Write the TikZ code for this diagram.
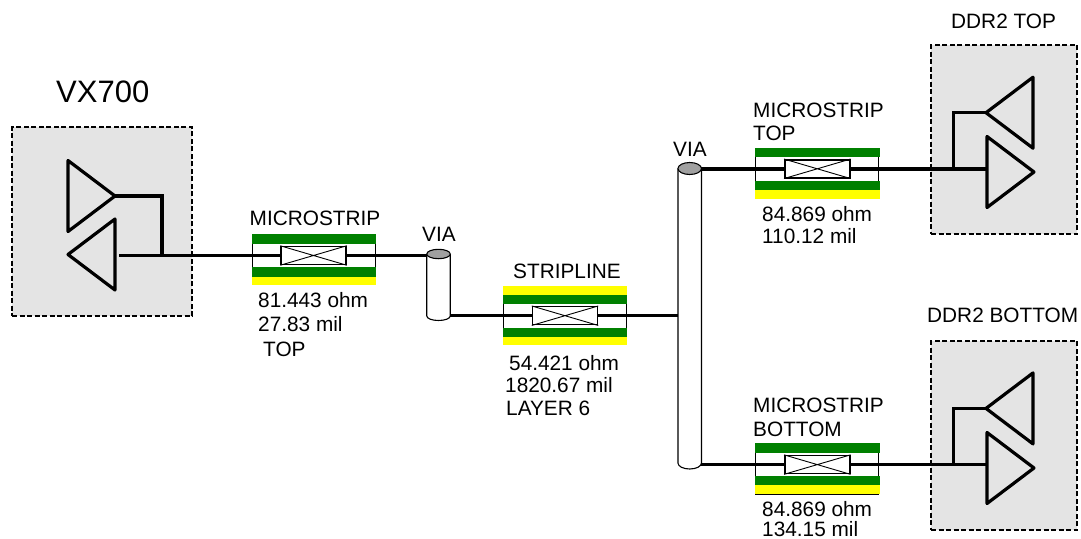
\documentclass[tikz,border=0pt]{standalone}
\usepackage{fontspec}
\setmainfont{Liberation Sans}
\usepackage{xcolor}
\usetikzlibrary{positioning, shapes.geometric}
\definecolor{chipgray}{HTML}{E4E4E4}
\definecolor{viagray}{HTML}{A0A0A0}
\definecolor{bandgreen}{HTML}{008000}
\definecolor{bandyellow}{HTML}{FFFF00}
\tikzset{
  chip/.style={draw,dash pattern=on 5pt off 2.5pt,line width=2pt,fill=chipgray,minimum width=#1,inner sep=0pt},
  drvr/.style={draw,isosceles triangle,isosceles triangle stretches,line width=3.2pt,line join=round,anchor=apex,minimum width=71pt,minimum height=47pt,inner sep=0pt,outer sep=0pt},
  wire/.style={line width=3.4pt},
  sect/.style={draw,line width=1.2pt,minimum width=123pt,minimum height=50pt,inner sep=0pt},
  band/.style={minimum width=124.5pt,minimum height=9.5pt,inner sep=0pt},
  elem/.style={draw,fill=white,line width=1.5pt,minimum width=65pt,minimum height=18pt,inner sep=0pt},
  cross/.style={line width=0.9pt},
  via/.style={minimum width=23.5pt,inner sep=0pt,outer sep=0pt},
  viabody/.style={draw,fill=white,line width=1.1pt},
  lbl/.style={anchor=base west,inner sep=0pt,font=\fontsize{20.8pt}{24pt}\selectfont},
}
\begin{document}
\begin{tikzpicture}[x=1pt,y=-1pt]
\useasboundingbox (0,0) rectangle (1081,538);
% chips
\node[chip=180pt,minimum height=189pt] (vx) at (102,221.5) {};
\node[chip=146pt,minimum height=189pt] (ddrt) at (1004,139.5) {};
\node[chip=146pt,minimum height=189pt] (ddrb) at (1004,435.5) {};
% sections
\node[sect] (s1) at (313.8,259.5) {};
\node[band,fill=bandgreen,minimum height=10pt] (s1a) at (313.8,239.3) {};
\node[band,fill=bandgreen] (s1b) at (313.8,271.8) {};
\node[band,fill=bandyellow,minimum height=8.5pt] (s1c) at (313.8,280.8) {};
\node[sect] (s2) at (565,315.5) {};
\node[band,fill=bandyellow] (s2a) at (565,290.4) {};
\node[band,fill=bandgreen] (s2b) at (565,299.5) {};
\node[band,fill=bandgreen] (s2c) at (565,332.5) {};
\node[band,fill=bandyellow,minimum height=8.5pt] (s2d) at (565,341.2) {};
\node[sect] (s3) at (817.3,173.5) {};
\node[band,fill=bandgreen] (s3a) at (817.3,152.5) {};
\node[band,fill=bandgreen] (s3b) at (817.3,185.5) {};
\node[band,fill=bandyellow] (s3c) at (817.3,194.5) {};
\node[sect] (s4) at (817.3,469) {};
\node[band,fill=bandgreen] (s4a) at (817.3,448) {};
\node[band,fill=bandgreen] (s4b) at (817.3,480.5) {};
\node[band,fill=bandyellow] (s4c) at (817.3,489.7) {};
% elements
\node[elem] (e1) at (313.5,255.5) {};
\node[elem] (e2) at (565,315.7) {};
\node[elem] (e3) at (817.3,168.8) {};
\node[elem] (e4) at (817.3,464.6) {};
\draw[cross] (e1.north west) -- (e1.south east) (e1.south west) -- (e1.north east);
\draw[cross] (e2.north west) -- (e2.south east) (e2.south west) -- (e2.north east);
\draw[cross] (e3.north west) -- (e3.south east) (e3.south west) -- (e3.north east);
\draw[cross] (e4.north west) -- (e4.south east) (e4.south west) -- (e4.north east);
% vias
\node[via,minimum height=62pt] (v1) at (438.5,285) {};
\node[via,minimum height=294.5pt] (v2) at (689.7,315.75) {};
\draw[viabody] (v1.north west) -- (v1.south west) arc (180:360:11.75pt and 4.5pt) -- (v1.north east);
\draw[viabody,fill=viagray] (v1.north) ellipse (11.75pt and 4.7pt);
\draw[viabody] (v2.north west) -- (v2.south west) arc (180:360:11.75pt and 6pt) -- (v2.north east);
\draw[viabody,fill=viagray] (v2.north) ellipse (11.75pt and 6pt);
% drivers
\node[drvr] (tx1) at (115,196) {};
\node[drvr,shape border rotate=180] (rx1) at (68,254.5) {};
\node[drvr,shape border rotate=180] (rx2) at (986,112.7) {};
\node[drvr] (tx2) at (1034,172) {};
\node[drvr,shape border rotate=180] (rx3) at (986,408.4) {};
\node[drvr] (tx3) at (1034,468) {};
% wires
\coordinate (j1) at (162,255.5);
\coordinate (j2) at (953.5,168.8);
\coordinate (j3) at (953.5,464.6);
\coordinate (st) at (119,255.5);
\draw[wire] (st) -- (e1.west);
\draw[wire] (e1.east) -- (e1.east -| v1.west);
\draw[wire] (tx1.apex) -| (j1);
\draw[wire] (e2.west -| v1.east) -- (e2.west);
\draw[wire] (e2.east) -- (e2.east -| v2.west);
\draw[wire] (e3.west -| v2.east) -- (e3.west);
\draw[wire] (e3.east) -- (j2) -- (j2 -| tx2.lower side);
\draw[wire] (rx2.apex) -| (j2);
\draw[wire] (e4.west -| v2.east) -- (e4.west);
\draw[wire] (e4.east) -- (j3) -- (j3 -| tx3.lower side);
\draw[wire] (rx3.apex) -| (j3);
% labels
\node[lbl,font=\fontsize{31pt}{34pt}\selectfont] (l0) at (56,102) {VX700};
\node[lbl] (l1) at (249.5,225) {MICROSTRIP};
\node[lbl] (l2) at (258,307) {81.443 ohm};
\node[lbl] (l3) at (258,331) {27.83 mil};
\node[lbl] (l4) at (263,356.5) {TOP};
\node[lbl] (l5) at (422,241.5) {VIA};
\node[lbl] (l6) at (513,278) {STRIPLINE};
\node[lbl] (l7) at (509,370) {54.421 ohm};
\node[lbl] (l8) at (505,392) {1820.67 mil};
\node[lbl] (l9) at (506,415) {LAYER 6};
\node[lbl] (l10) at (673,156) {VIA};
\node[lbl] (l11) at (753,117) {MICROSTRIP};
\node[lbl] (l12) at (753,140) {TOP};
\node[lbl] (l13) at (762,221) {84.869 ohm};
\node[lbl] (l14) at (762,243) {110.12 mil};
\node[lbl] (l15) at (951,28) {DDR2 TOP};
\node[lbl] (l16) at (927,322) {DDR2 BOTTOM};
\node[lbl] (l17) at (753,412) {MICROSTRIP};
\node[lbl] (l18) at (753,436) {BOTTOM};
\node[lbl] (l19) at (762,516) {84.869 ohm};
\node[lbl] (l20) at (762,536) {134.15 mil};
\end{tikzpicture}
\end{document}
